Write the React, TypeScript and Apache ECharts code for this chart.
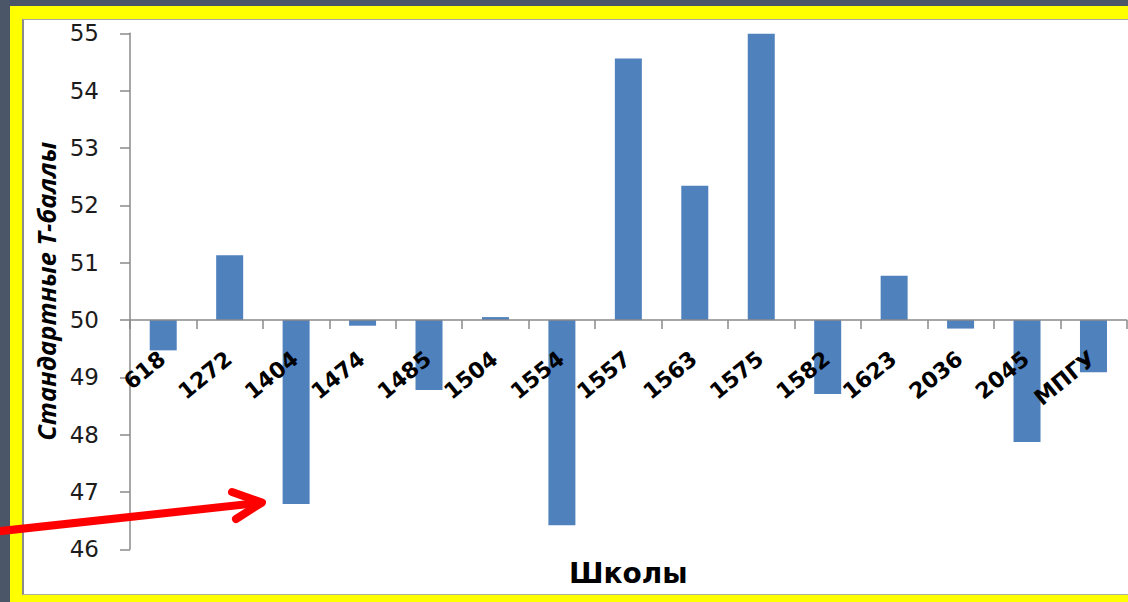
import React, { useEffect, useRef } from "react";
import * as echarts from "echarts";

const schools = ["618", "1272", "1404", "1474", "1485", "1504", "1554", "1557", "1563", "1575", "1582", "1623", "2036", "2045", "МПГУ"];
const tScores = [49.47, 51.13, 46.79, 49.9, 48.78, 50.05, 46.42, 54.56, 52.34, 54.99, 48.71, 50.77, 49.85, 47.87, 49.09];
const baseline = 50;
const yTickMin = 46;
const yTickMax = 55;
const yAxisTitle = "Стандартные Т-баллы";
const xAxisTitle = "Школы";

const GRID_TOP = 33.3;
const GRID_BOTTOM = 52.7;
const CHART_H = 602;

export default function App() {
  const ref = useRef<HTMLDivElement>(null);

  useEffect(() => {
    if (!ref.current) return;
    const chart = echarts.init(ref.current, null, { renderer: "svg" });
    const plotH = CHART_H - GRID_TOP - GRID_BOTTOM;
    const axisOffset = -(plotH * (baseline - yTickMin)) / (yTickMax - yTickMin);
    chart.setOption({
      animation: false,
      backgroundColor: "transparent",
      grid: { left: 130, right: 1.3, top: GRID_TOP, bottom: GRID_BOTTOM, containLabel: false, outerBoundsMode: "none" },
      xAxis: {
        type: "category",
        data: schools,
        z: 10,
        offset: axisOffset,
        axisLine: { show: true, onZero: false, lineStyle: { color: "#8a8a8a", width: 1.5 } },
        axisTick: { show: true, length: 9, alignWithLabel: false, lineStyle: { color: "#8a8a8a", width: 1.5 } },
        axisLabel: {
          interval: 0,
          rotate: 39,
          margin: 21,
          align: "right",
          verticalAlign: "top",
          padding: [0, 10, 0, 0],
          color: "#000",
          fontFamily: "DejaVu Sans, sans-serif",
          fontWeight: "bold",
          fontSize: 22,
        },
        name: xAxisTitle,
        nameLocation: "middle",
        nameGap: 240,
        nameTextStyle: {
          color: "#000",
          fontFamily: "DejaVu Sans, sans-serif",
          fontWeight: "bold",
          fontSize: 28,
        },
      },
      yAxis: {
        type: "value",
        min: yTickMin - baseline,
        max: yTickMax - baseline,
        interval: 1,
        splitLine: { show: false },
        axisLine: { show: true, lineStyle: { color: "#8a8a8a", width: 1.5 } },
        axisTick: { show: true, length: 10, lineStyle: { color: "#8a8a8a", width: 1.5 } },
        axisLabel: {
          margin: 31,
          color: "#1c1c1c",
          fontFamily: "DejaVu Sans, sans-serif",
          fontSize: 23,
          formatter: (v: number) => String(Math.round(v + baseline)),
        },
        name: yAxisTitle,
        nameLocation: "middle",
        nameRotate: 90,
        nameGap: 65,
        nameTextStyle: {
          color: "#000",
          fontFamily: "Open Sans, Liberation Sans, sans-serif",
          fontWeight: "bold",
          fontStyle: "italic",
          fontSize: 25.5,
        },
      },
      series: [
        {
          type: "bar",
          data: tScores.map((v) => +(v - baseline).toFixed(3)),
          barWidth: 27,
          itemStyle: { color: "#4f81bd" },
        },
      ],
      graphic: [
        {
          type: "polyline",
          z: 100,
          shape: { points: [[-8, 532], [258, 503]] },
          style: { stroke: "#ff0000", lineWidth: 8, lineCap: "round", fill: null },
        },
        {
          type: "polyline",
          z: 100,
          shape: { points: [[232, 492], [262, 502.5], [236, 519]] },
          style: { stroke: "#ff0000", lineWidth: 8, lineCap: "round", lineJoin: "round", fill: null },
        },
      ],
    });
    return () => chart.dispose();
  }, []);

  return (
    <div style={{ position: "fixed", left: 0, top: 0, width: 1128, height: 602, background: "#4b5669", overflow: "hidden" }}>
      <div style={{ position: "absolute", left: 10, top: 6, width: 1130, height: 600, background: "#ffff00" }} />
      <div
        style={{
          position: "absolute",
          left: 22,
          top: 19,
          width: 1120,
          height: 574,
          background: "#ffffff",
          borderLeft: "2px solid #8c8c8c",
          borderTop: "1px solid #a8a8a8",
          borderBottom: "1px solid #b0b0a0",
        }}
      />
      <div ref={ref} style={{ position: "absolute", left: 0, top: 0, width: 1128, height: 602 }} />
    </div>
  );
}
